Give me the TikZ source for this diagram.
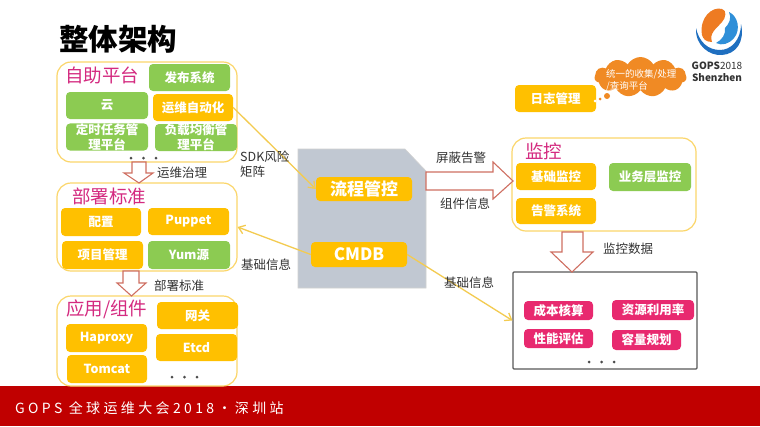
\documentclass[tikz,border=0pt]{standalone}
\usepackage{fontspec}
\setmainfont{Noto Sans CJK SC}
\usetikzlibrary{shapes.symbols,arrows.meta}
\definecolor{orangebox}{HTML}{FFC000}
\definecolor{greenbox}{HTML}{8CCB52}
\definecolor{pinkbox}{HTML}{E8296F}
\definecolor{grouprim}{HTML}{FBD66A}
\definecolor{titlepink}{HTML}{D42A80}
\definecolor{band}{HTML}{C00000}
\definecolor{docgray}{HTML}{C1C8D2}
\definecolor{arrowrim}{HTML}{CF6F62}
\definecolor{linkyellow}{HTML}{F3CB50}
\definecolor{cloudorange}{HTML}{F08A24}
\definecolor{ink}{HTML}{333333}
\definecolor{logoblue}{HTML}{2F8FD8}
\definecolor{logodeep}{HTML}{1F6FC0}
\definecolor{logoorange}{HTML}{EE7B22}
\tikzset{
  x=1pt,y=-1pt,
  boxbase/.style={anchor=center,rounded corners=4pt,inner sep=0pt,align=center,text=white,font=\bfseries\fontsize{12.5}{15}\selectfont},
  groupbox/.style={draw=grouprim,line width=1.2pt,rounded corners=14pt,fill=white},
  grouptitle/.style={text=titlepink,inner sep=0pt,font=\fontsize{18.5}{20}\selectfont},
  label/.style={text=ink,inner sep=0pt,align=left,font=\fontsize{12.5}{15}\selectfont},
  link/.style={draw=linkyellow,line width=1.3pt,-{Straight Barb[length=6pt,width=9pt]}},
  blockarrow/.style={draw=arrowrim,line width=1.1pt,fill=white},
  bigbox/.style={boxbase,fill=orangebox,font=\bfseries\fontsize{17}{18}\selectfont},
}
\newcommand{\pbox}[7]{\node[boxbase,fill=#1,minimum width=#5pt-#3pt,minimum height=#6pt-#4pt] (#2) at ({(#3+#5)/2},{(#4+#6)/2}) {#7};}
\newcommand{\gbox}[5]{\node[groupbox,minimum width=#4pt-#2pt,minimum height=#5pt-#3pt,inner sep=0pt] (#1) at ({(#2+#4)/2},{(#3+#5)/2}) {};}
\newcommand{\threedots}[3]{\foreach \i in {0,1,2}{\fill[black!70] ({#1+\i*#3},#2) circle (1.5);}}
\begin{document}
\begin{tikzpicture}
\useasboundingbox (0,0) rectangle (760,426);
\fill[white] (0,0) rectangle (760,426);
\fill[band] (0,386) rectangle (760,426);
\node[anchor=west,inner sep=0pt,text=white,font=\fontsize{14}{16}\selectfont] (foot) at (15,408) {\addfontfeatures{LetterSpace=24}GOPS 全球运维大会2018·深圳站};
\node[anchor=west,inner sep=0pt,font=\bfseries\fontsize{29.5}{31}\selectfont] (head) at (59,39) {整体架构};
% groups
\gbox{self}{57}{62}{237}{162}
\gbox{deploy}{57}{183}{237}{271}
\gbox{apps}{57}{296}{237}{386}
\gbox{mon}{512}{138}{696}{231}
\node[draw=black!65,line width=1.2pt,rounded corners=1pt,fill=white,minimum width=184pt,minimum height=97pt,inner sep=0pt] (out) at (605,320.5) {};
% document shape
\fill[docgray,draw=black!18,line width=.6pt] (298,149) -- (405,149) -- (426,171) -- (426,288) -- (298,288) -- cycle;
% group titles
\node[grouptitle,anchor=west] (t1) at (65,75) {自助平台};
\node[grouptitle,anchor=west] (t2) at (72,196) {部署标准};
\node[grouptitle,anchor=west] (t3) at (66,309) {应用/组件};
\node[grouptitle,anchor=west] (t4) at (525,151) {监控};
% boxes
\pbox{greenbox}{fabu}{149}{64}{230}{91}{发布系统}
\pbox{greenbox}{yun}{66}{92}{148}{119}{云}
\pbox{orangebox}{auto}{153}{94}{233}{121}{运维自动化}
\pbox{greenbox}{cron}{66}{124}{148}{150}{定时任务管\\理平台}
\pbox{greenbox}{lb}{155}{124}{237}{151}{负载均衡管\\理平台}
\pbox{orangebox}{conf}{61}{208}{141}{236}{配置}
\pbox{orangebox}{pup}{148}{208}{229}{235}{Puppet}
\pbox{orangebox}{proj}{62}{241}{143}{269}{项目管理}
\pbox{greenbox}{yum}{148}{241}{230}{269}{Yum源}
\pbox{orangebox}{gate}{157}{302}{238}{329}{网关}
\pbox{orangebox}{etcd}{156}{334}{237}{361}{Etcd}
\pbox{orangebox}{hap}{66}{324}{147}{352}{Haproxy}
\pbox{orangebox}{tom}{67}{355}{147}{383}{Tomcat}
\pbox{orangebox}{logm}{515}{85}{596}{112}{日志管理}
\pbox{orangebox}{base}{516}{163}{596}{190}{基础监控}
\pbox{greenbox}{biz}{609}{163}{691}{191}{业务层监控}
\pbox{orangebox}{alert}{516}{198}{596}{224}{告警系统}
\pbox{pinkbox}{cost}{524}{301}{593}{320}{成本核算}
\pbox{pinkbox}{res}{612}{300}{694}{320}{资源利用率}
\pbox{pinkbox}{perf}{524}{329}{593}{348}{性能评估}
\pbox{pinkbox}{cap}{612}{330}{681}{350}{容量规划}
\node[bigbox,minimum width=96pt,minimum height=24pt] (flow) at (364,189) {流程管控};
\node[bigbox,minimum width=96pt,minimum height=25pt] (cmdb) at (359,254.5) {CMDB};
% links
\draw[link] (auto.east) -- (flow.west);
\draw[link] (cmdb.west) -- (deploy.east);
\draw[link] (cmdb.east) -- (out.west);
% block arrows
\draw[blockarrow] (132,162) -- (146,162) -- (146,173) -- (153,173) -- (139,183) -- (124,173) -- (132,173) -- cycle;
\draw[blockarrow] (123,271) -- (139,271) -- (139,283) -- (146,283) -- (131.5,296) -- (117,283) -- (123,283) -- cycle;
\draw[blockarrow] (426,172) -- (493,172) -- (493,162) -- (513,181) -- (493,199) -- (493,190) -- (426,190) -- cycle;
\draw[blockarrow] (562,232) -- (583,232) -- (583,252) -- (593,252) -- (572,272) -- (551,252) -- (562,252) -- cycle;
% labels
\node[label,anchor=west] (l1) at (157,173) {运维治理};
\node[label,anchor=west] (l2) at (240,164.5) {SDK风险\\矩阵};
\node[label,anchor=west] (l3) at (241,265) {基础信息};
\node[label,anchor=west] (l4) at (154,286) {部署标准};
\node[label,anchor=west] (l5) at (436,158) {屏蔽告警};
\node[label,anchor=west] (l6) at (440,204) {组件信息};
\node[label,anchor=west] (l7) at (444,283) {基础信息};
\node[label,anchor=west] (l8) at (603,249) {监控数据};
% dots
\threedots{131}{158}{12.5}
\threedots{172}{377}{12.5}
\threedots{589}{362}{12.5}
% cloud
\node[cloud,cloud puffs=11,cloud puff arc=120,aspect=2.3,fill=cloudorange,inner sep=0pt,minimum width=92pt,minimum height=40pt] (cl) at (640.5,77) {};
\node[anchor=west,inner sep=0pt,text=white,align=left,font=\fontsize{9.5}{12}\selectfont] (cltext) at (606,80) {统一的收集/处理\\/查询平台};
\fill[cloudorange] (607,96) circle (3);
\fill[cloudorange] (600,99) circle (1.5);
\fill[white] (595,101) circle (1.5);
% logo
\fill[logodeep] (696,28) .. controls (695,46) and (710,56) .. (722,55) .. controls (736,54) and (745,42) .. (741,24) .. controls (741,40) and (731,50) .. (720,50) .. controls (708,50) and (699,42) .. (696,28) -- cycle;
\fill[logoorange] (702,35) .. controls (699,18) and (712,6) .. (722,9) .. controls (727,10) and (726,18) .. (722,22) .. controls (716,29) and (709,33) .. (712,42) .. controls (706,42) and (703,39) .. (702,35) -- cycle;
\fill[logoblue] (729,12) .. controls (738,16) and (741,30) .. (734,38) .. controls (729,44) and (722,46) .. (716,43) .. controls (722,40) and (726,34) .. (725,28) .. controls (729,24) and (732,18) .. (729,12) -- cycle;
\node[anchor=center,inner sep=0pt,text=ink,font=\fontsize{10}{11}\selectfont] (lg1) at (717,66) {\textbf{GOPS}2018};
\node[anchor=center,inner sep=0pt,text=ink,font=\bfseries\fontsize{10}{11}\selectfont] (lg2) at (717,78) {Shenzhen};
\end{tikzpicture}
\end{document}
